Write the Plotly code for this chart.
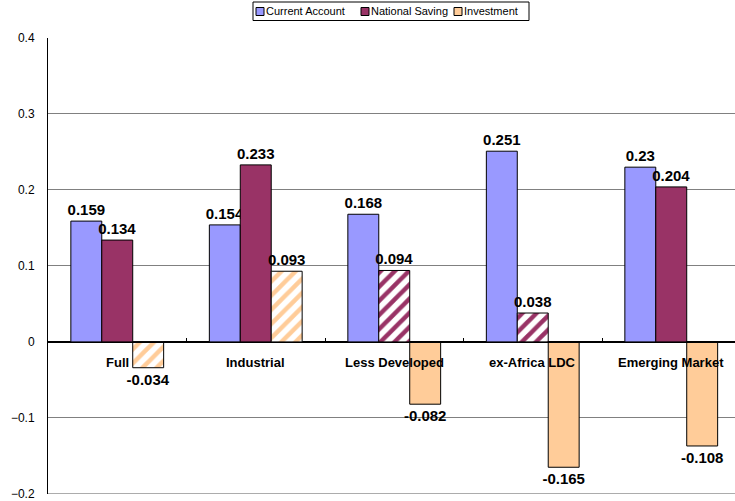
import plotly.graph_objects as go

categories = ["Full", "Industrial", "Less Developed", "ex-Africa LDC", "Emerging Market"]
current_account = [0.159, 0.154, 0.168, 0.251, 0.23]
national_saving = [0.134, 0.233, 0.094, 0.038, 0.204]
investment = [-0.034, 0.093, -0.082, -0.165, -0.137]
investment_labels = ["-0.034", "0.093", "-0.082", "-0.165", "-0.108"]
ns_hatch = ["", "", "/", "/", ""]
inv_hatch = ["/", "/", "", "", ""]
series_names = ["Current Account", "National Saving", "Investment"]
colors = ["#9999FF", "#993366", "#FFCC99"]
y_ticks = [-0.2, -0.1, 0, 0.1, 0.2, 0.3, 0.4]
y_min, y_max = -0.2, 0.4

FONT = "Liberation Sans, Arial, sans-serif"
LBL = dict(family=FONT, size=15, color="black", weight="bold")

fig = go.Figure()
series = [
    (current_account, [f"{v:g}" for v in current_account], [""] * 5),
    (national_saving, [f"{v:g}" for v in national_saving], ns_hatch),
    (investment, investment_labels, inv_hatch),
]
for (vals, labels, hatch), name, col in zip(series, series_names, colors):
    fig.add_trace(go.Bar(
        x=categories, y=vals, name=name, text=labels,
        textposition="outside", textfont=LBL, cliponaxis=False,
        constraintext="none", showlegend=False, hoverinfo="skip",
        marker=dict(color=col, line=dict(color="black", width=1),
                    pattern=dict(shape=hatch, fgcolor=col, bgcolor="white",
                                 size=10, solidity=0.45, fillmode="replace")),
    ))

L, R, T, B = 48, 735, 38, 494
W, H = 735, 501

def px(x):
    return (x - L) / (R - L)

def py(y):
    return (B - y) / (B - T)

shapes = []
annotations = []
# bottom frame line of the plot area (gridline at the range minimum)
shapes.append(dict(type="line", xref="paper", yref="y", x0=0, x1=1,
                   y0=y_min, y1=y_min, layer="below",
                   line=dict(color="#808080", width=1)))
# category labels just below the zero line
for c in categories:
    annotations.append(dict(x=c, y=0, xref="x", yref="y", text=f"<b>{c}</b>",
                            showarrow=False, yshift=-21, yanchor="middle",
                            font=dict(family=FONT, size=13, color="black")))

# legend drawn as layout decoration
shapes.append(dict(type="rect", xref="paper", yref="paper",
                   x0=px(253), x1=px(529), y0=py(2), y1=py(20.5),
                   line=dict(color="black", width=1), fillcolor="white"))
leg_sq = [256, 361, 454]
leg_tx = [266, 371, 464]
for name, col, sx, tx in zip(series_names, colors, leg_sq, leg_tx):
    shapes.append(dict(type="rect", xref="paper", yref="paper",
                       x0=px(sx), x1=px(sx + 8), y0=py(7.5), y1=py(15.5),
                       line=dict(color="black", width=1), fillcolor=col))
    annotations.append(dict(x=px(tx), y=py(11.5), xref="paper", yref="paper",
                            text=name, showarrow=False, xanchor="left",
                            yanchor="middle", xshift=-2,
                            font=dict(family=FONT, size=11, color="black")))

fig.update_layout(
    width=W, height=H,
    margin=dict(l=L, r=W - R, t=T, b=H - B, pad=0),
    paper_bgcolor="white", plot_bgcolor="white",
    barmode="group", bargap=0.33, bargroupgap=0,
    showlegend=False, hovermode=False,
    shapes=shapes, annotations=annotations,
    xaxis=dict(range=[-0.5, -0.5 + 5 * (R - L) / 692.5], anchor="free",
               position=1 / 3, showline=True, linecolor="black", linewidth=1,
               ticks="inside", ticklen=4, tickcolor="black", tickson="boundaries",
               showticklabels=False, showgrid=False, zeroline=False),
    yaxis=dict(range=[y_min - 0.0002, y_max], tickvals=y_ticks, showline=True,
               linecolor="black", linewidth=1, showgrid=True,
               gridcolor="#808080", gridwidth=1, zeroline=True,
               zerolinecolor="black", zerolinewidth=1, ticks="",
               ticklabelstandoff=10, ticklabeloverflow="allow",
               tickfont=dict(family=FONT, size=12, color="black")),
)

fig.write_html(
    "out.html",
    config={"displayModeBar": False},
    post_script="document.body.style.margin='0';document.body.style.padding='0';",
)
